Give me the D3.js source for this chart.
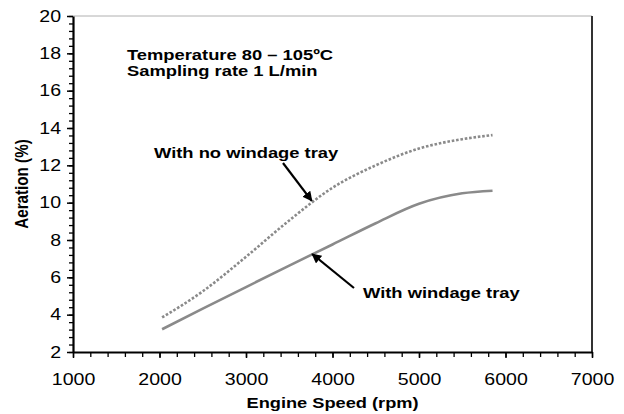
<!DOCTYPE html>
<head>
  <meta charset='utf-8'>
  <script src='https://d3js.org/d3.v7.min.js'></script>
  <style>
    body { margin: 0; background: #fff; }
    svg { font-family: 'Liberation Sans', Arial, sans-serif; }
    .tick text { font-size: 16.3px; fill: #000; }
  </style>
</head>

<body>
  <script>

// values
const rpm = [2030, 2500, 3000, 3500, 4000, 4500, 5000, 5500, 5850];
const noTray = [3.85, 5.25, 7.1, 9.05, 10.8, 12.0, 12.9, 13.4, 13.62];
const withTray = [3.22, 4.32, 5.48, 6.63, 7.76, 8.9, 9.94, 10.5, 10.64];
const xTicks = [1000, 2000, 3000, 4000, 5000, 6000, 7000];
const yTicks = [2, 4, 6, 8, 10, 12, 14, 16, 18, 20];
const notes = ['Temperature 80 \u2013 105\u00baC', 'Sampling rate 1 L/min'];

// the source picture is stretched sideways, so the texts are too
const stretch = 'scale(1.2,1)';

const width = 624,
  height = 414,
  margin = {top: 16, right: 32, bottom: 62, left: 73},
  innerWidth = width - margin.left - margin.right,
  innerHeight = height - margin.top - margin.bottom;

const svg = d3.select('body').append('svg').attr('width', width).attr('height', height);
const g = svg.append('g').attr('transform', `translate(${margin.left},${margin.top})`);

const x = d3.scaleLinear().domain([1000, 7000]).range([0, innerWidth]);
const y = d3.scaleLinear().domain([2, 20]).range([innerHeight, 0]);

// frame: light top, dark right
g.append('line')
  .attr('x1', 0).attr('x2', innerWidth).attr('y1', 0).attr('y2', 0)
  .attr('stroke', '#b0b0b0').attr('stroke-width', 1);
g.append('line')
  .attr('x1', innerWidth).attr('x2', innerWidth).attr('y1', 0).attr('y2', innerHeight)
  .attr('stroke', '#333').attr('stroke-width', 2);

// minor ticks
g.append('g')
  .attr('transform', `translate(0,${innerHeight})`)
  .call(d3.axisBottom(x).tickValues(d3.range(1000, 7001, 200)).tickSize(5).tickFormat(''))
  .call(a => a.select('.domain').remove())
  .selectAll('line').attr('stroke-width', 1.3);
g.append('g')
  .call(d3.axisLeft(y).tickValues(d3.range(2, 20.01, 0.4)).tickSize(4).tickFormat(''))
  .call(a => a.select('.domain').remove())
  .selectAll('line').attr('stroke-width', 1.3);

// major ticks + labels
const xAxis = g.append('g')
  .attr('transform', `translate(0,${innerHeight})`)
  .call(d3.axisBottom(x).tickValues(xTicks).tickSize(6).tickPadding(15).tickSizeOuter(0).tickFormat(d3.format('d')));
xAxis.select('.domain').attr('stroke-width', 2.2);
xAxis.selectAll('.tick line').attr('stroke-width', 1.5);
xAxis.selectAll('.tick text').attr('transform', stretch);

const yAxis = g.append('g')
  .call(d3.axisLeft(y).tickValues(yTicks).tickSize(6).tickPadding(4).tickSizeOuter(0));
yAxis.select('.domain').attr('stroke-width', 2.2);
yAxis.selectAll('.tick line').attr('stroke-width', 1.5);
yAxis.selectAll('.tick text').attr('transform', stretch);

// curves
const line = d3.line()
  .x(d => x(d[0]))
  .y(d => y(d[1]))
  .curve(d3.curveMonotoneX);

g.append('path')
  .datum(d3.zip(rpm, noTray))
  .attr('d', line)
  .attr('fill', 'none')
  .attr('stroke', '#8a8a8a')
  .attr('stroke-width', 2.6)
  .attr('stroke-dasharray', '2.6,1.8');

g.append('path')
  .datum(d3.zip(rpm, withTray))
  .attr('d', line)
  .attr('fill', 'none')
  .attr('stroke', '#8a8a8a')
  .attr('stroke-width', 2.6);

// note in the corner
notes.forEach((d, i) => {
  svg.append('text')
    .attr('transform', `translate(127,${60 + i * 15.7}) ${stretch}`)
    .attr('font-size', 15.3)
    .attr('font-weight', 'bold')
    .text(d);
});

// arrows with labels
svg.append('defs').append('marker')
  .attr('id', 'head')
  .attr('viewBox', '0 0 10 10')
  .attr('refX', 9).attr('refY', 5)
  .attr('markerWidth', 4.5).attr('markerHeight', 4.5)
  .attr('orient', 'auto')
  .append('path').attr('d', 'M0,0L10,5L0,10z').attr('fill', '#000');

const callouts = [
  {text: 'With no windage tray', tx: 154, ty: 158, from: [283, 163], at: [3760, 10.1]},
  {text: 'With windage tray', tx: 363, ty: 298, from: [354, 288], at: [3765, 7.25]}
];

callouts.forEach(c => {
  svg.append('text')
    .attr('transform', `translate(${c.tx},${c.ty}) ${stretch}`)
    .attr('font-size', 15.3)
    .attr('font-weight', 'bold')
    .text(c.text);
  svg.append('line')
    .attr('x1', c.from[0]).attr('y1', c.from[1])
    .attr('x2', margin.left + x(c.at[0])).attr('y2', margin.top + y(c.at[1]))
    .attr('stroke', '#000').attr('stroke-width', 2.2)
    .attr('marker-end', 'url(#head)');
});

// axis titles
svg.append('text')
  .attr('transform', `translate(${margin.left + innerWidth / 2},408) ${stretch}`)
  .attr('text-anchor', 'middle')
  .attr('font-size', 15.2)
  .attr('font-weight', 'bold')
  .text('Engine Speed (rpm)');

svg.append('text')
  .attr('transform', `translate(28,${margin.top + innerHeight / 2}) rotate(-90) scale(1,1.2)`)
  .attr('text-anchor', 'middle')
  .attr('font-size', 15.2)
  .attr('font-weight', 'bold')
  .text('Aeration (%)');

  </script>
</body>
